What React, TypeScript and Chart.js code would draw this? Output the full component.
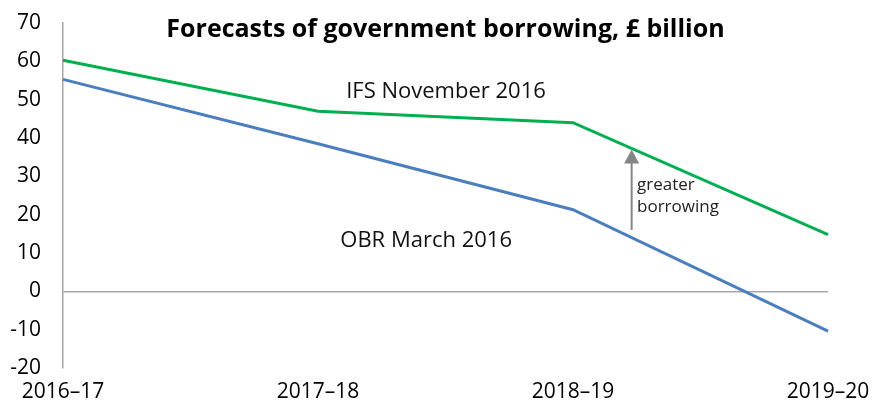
import React, { useEffect, useRef } from "react";
import { Chart, registerables } from "chart.js";

Chart.register(...registerables);

const categories = ["2016–17", "2017–18", "2018–19", "2019–20"];
const ifsValues = [60.3, 47.0, 44.0, 14.8];
const obrValues = [55.3, 38.5, 21.3, -10.4];
const yMin = -20;
const yMax = 70;
const yStep = 10;

const titleText = "Forecasts of government borrowing, £ billion";
const seriesLabels = [
  { text: "IFS November 2016", x: 1.502, y: 50.4 },
  { text: "OBR March 2016", x: 1.424, y: 11.6 },
];
const arrowSpec = { x: 2.23, from: 16.0, to: 37.0 };
const arrowText = [
  { text: "greater", x: 2.251, y: 26.4 },
  { text: "borrowing", x: 2.251, y: 20.7 },
];

const FONT = "'Open Sans', 'Noto Sans', sans-serif";

const annotationPlugin = {
  id: "annotations",
  afterDatasetsDraw(chart: any) {
    const { ctx, scales, chartArea } = chart;
    const xs = scales.x;
    const ys = scales.y;
    ctx.save();
    ctx.textBaseline = "alphabetic";
    // title
    ctx.fillStyle = "#000";
    ctx.font = `bold 25px ${FONT}`;
    ctx.textAlign = "center";
    ctx.fillText(titleText, (chartArea.left + chartArea.right) / 2, chartArea.top + 14);
    // series labels
    ctx.fillStyle = "#111";
    ctx.font = `22px ${FONT}`;
    for (const l of seriesLabels) {
      ctx.fillText(l.text, xs.getPixelForValue(l.x), ys.getPixelForValue(l.y));
    }
    // arrow
    const ax = xs.getPixelForValue(arrowSpec.x);
    const y0 = ys.getPixelForValue(arrowSpec.from);
    const y1 = ys.getPixelForValue(arrowSpec.to);
    ctx.strokeStyle = "#858585";
    ctx.fillStyle = "#858585";
    ctx.lineWidth = 2;
    ctx.beginPath();
    ctx.moveTo(ax, y0);
    ctx.lineTo(ax, y1 + 12);
    ctx.stroke();
    ctx.beginPath();
    ctx.moveTo(ax, y1);
    ctx.lineTo(ax - 7.5, y1 + 14);
    ctx.lineTo(ax + 7.5, y1 + 14);
    ctx.closePath();
    ctx.fill();
    // arrow text
    ctx.fillStyle = "#222";
    ctx.font = `17px ${FONT}`;
    ctx.textAlign = "left";
    for (const t of arrowText) {
      ctx.fillText(t.text, xs.getPixelForValue(t.x), ys.getPixelForValue(t.y));
    }
    ctx.restore();
  },
};

export default function App() {
  const ref = useRef<HTMLCanvasElement>(null);
  useEffect(() => {
    document.body.style.margin = "0";
    const chart = new Chart(ref.current as HTMLCanvasElement, {
      type: "line",
      data: {
        labels: categories,
        datasets: [
          {
            label: "IFS November 2016",
            data: ifsValues,
            borderColor: "#00B050",
            borderWidth: 3,
            pointRadius: 0,
            tension: 0,
          },
          {
            label: "OBR March 2016",
            data: obrValues,
            borderColor: "#4A7EBF",
            borderWidth: 3,
            pointRadius: 0,
            tension: 0,
          },
        ],
      },
      options: {
        animation: false,
        responsive: false,
        maintainAspectRatio: false,
        layout: { padding: { top: 23, right: 44, left: 0, bottom: 0 } },
        plugins: { legend: { display: false }, tooltip: { enabled: false }, title: { display: false } },
        scales: {
          x: {
            type: "category",
            offset: false,
            grid: { display: false, drawTicks: false },
            border: { display: false },
            ticks: { color: "#000", font: { family: FONT, size: 21 }, padding: 11, maxRotation: 0, autoSkip: false },
            afterFit: (s: any) => {
              s.height = 37;
              s.paddingLeft = 0;
              s.paddingRight = 0;
            },
          },
          y: {
            min: yMin,
            max: yMax,
            grid: {
              drawTicks: false,
              lineWidth: 1.5,
              color: (c: any) => (c.tick && c.tick.value === 0 ? "#A6A6A6" : "rgba(0,0,0,0)"),
            },
            border: { display: true, color: "#A6A6A6", width: 1.5 },
            ticks: { stepSize: yStep, color: "#000", font: { family: FONT, size: 21 }, padding: 22 },
            afterFit: (s: any) => {
              s.width = 63;
              s.paddingTop = 0;
              s.paddingBottom = 0;
            },
          },
        },
      },
      plugins: [annotationPlugin],
    });
    return () => chart.destroy();
  }, []);
  return (
    <div style={{ position: "fixed", left: 0, top: 0, width: 872, height: 405, background: "#fff" }}>
      <canvas ref={ref} width={872} height={405} />
    </div>
  );
}
